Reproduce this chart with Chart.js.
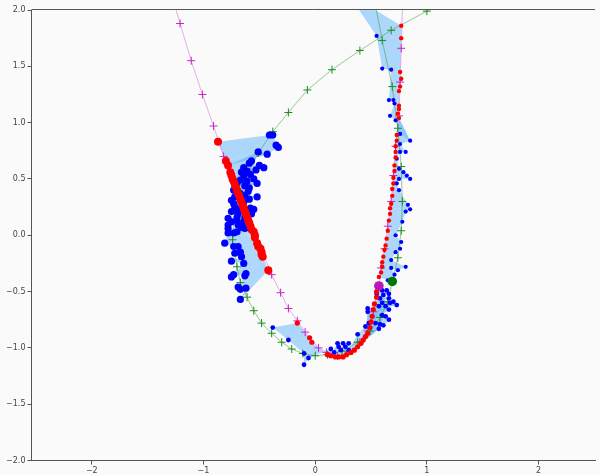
<!DOCTYPE html>
<html>
<head>
<meta charset="utf-8">
<title>Tracking estimate</title>
<script src="https://cdn.jsdelivr.net/npm/chart.js@4.4.1/dist/chart.umd.min.js"></script>
<style>
  html, body { margin: 0; padding: 0; background: #fafafa; }
  canvas { display: block; }
</style>
</head>
<body>
<canvas id="trackChart" width="600" height="475"></canvas>
<script>
const xTicks = [-2, -1, 0, 1, 2];
const yTicks = [-2, -1.5, -1, -0.5, 0, 0.5, 1, 1.5, 2];

// true trajectory (magenta +)
const truePath = [
    [-1.31, 2.22], [-1.21, 1.88], [-1.11, 1.55], [-1.01, 1.25], [-0.91, 0.97], [-0.82, 0.70],
    [-0.39, -0.35], [-0.31, -0.51], [-0.24, -0.65], [-0.16, -0.76], [-0.09, -0.86], [0.03, -1.00],
    [0.10, -1.04], [0.20, -1.07], [0.31, -1.03], [0.40, -0.95], [0.47, -0.85], [0.52, -0.68],
    [0.57, -0.45], [0.59, -0.29], [0.62, -0.12], [0.65, 0.08], [0.68, 0.30], [0.70, 0.53],
    [0.72, 0.79], [0.75, 1.06], [0.76, 1.36], [0.77, 1.66], [0.79, 2.30]
];

// model trajectory (green +)
const modelPath = [
    [1.35, 2.19], [1.00, 1.99], [0.68, 1.82], [0.40, 1.64], [0.15, 1.47], [-0.07, 1.29],
    [-0.24, 1.09], [-0.38, 0.92], [-0.51, 0.73], [-0.60, 0.56], [-0.67, 0.38], [-0.72, 0.19],
    [-0.74, -0.04], [-0.70, -0.28], [-0.67, -0.42], [-0.61, -0.55], [-0.55, -0.67], [-0.48, -0.78],
    [-0.39, -0.87], [-0.30, -0.95], [-0.21, -1.01], [-0.11, -1.05], [0.00, -1.07], [0.11, -1.06],
    [0.24, -1.03], [0.38, -0.95], [0.49, -0.85], [0.58, -0.73], [0.65, -0.59], [0.69, -0.41],
    [0.74, -0.20], [0.77, 0.04], [0.78, 0.30], [0.77, 0.61], [0.74, 0.95], [0.69, 1.32],
    [0.60, 1.73], [0.51, 2.19]
];

const trueNow = [0.57, -0.45];
const modelNow = [0.69, -0.41];

// filtered estimates (red)
const estLeft = [
    [-0.87, 0.83], [-0.80, 0.66], [-0.78, 0.62],
    [-0.76, 0.56], [-0.75, 0.53], [-0.74, 0.50], [-0.73, 0.48], [-0.72, 0.45], [-0.71, 0.43],
    [-0.70, 0.40], [-0.69, 0.37], [-0.68, 0.35], [-0.67, 0.32], [-0.66, 0.29], [-0.65, 0.27],
    [-0.64, 0.24], [-0.63, 0.21], [-0.62, 0.19], [-0.61, 0.16], [-0.60, 0.13], [-0.59, 0.11],
    [-0.58, 0.08], [-0.57, 0.05], [-0.55, 0.03], [-0.54, 0.00], [-0.54, -0.02],
    [-0.52, -0.07], [-0.51, -0.10], [-0.49, -0.12], [-0.48, -0.15], [-0.48, -0.17], [-0.47, -0.19],
    [-0.42, -0.31]
];
const estBottom = [
    [-0.16, -0.78], [-0.05, -0.91], [-0.03, -0.95],
    [0.11, -1.06], [0.14, -1.07], [0.18, -1.08], [0.21, -1.08], [0.25, -1.08], [0.28, -1.06],
    [0.32, -1.04], [0.35, -1.02], [0.38, -0.99], [0.41, -0.96], [0.43, -0.93], [0.45, -0.90],
    [0.47, -0.87], [0.49, -0.82], [0.50, -0.77], [0.51, -0.72], [0.52, -0.66], [0.53, -0.61],
    [0.55, -0.55], [0.55, -0.50], [0.57, -0.46]
];
const estRight = [
    [0.57, -0.37], [0.59, -0.33], [0.60, -0.28], [0.60, -0.24], [0.61, -0.19], [0.62, -0.13],
    [0.63, -0.09], [0.64, -0.03], [0.65, 0.04], [0.66, 0.13], [0.67, 0.19], [0.67, 0.24],
    [0.68, 0.28], [0.69, 0.35], [0.69, 0.41], [0.70, 0.46], [0.70, 0.51], [0.71, 0.57],
    [0.71, 0.62], [0.72, 0.69], [0.72, 0.74], [0.72, 0.79], [0.73, 0.84], [0.73, 0.89],
    [0.75, 1.04], [0.74, 1.08], [0.75, 1.12], [0.75, 1.15], [0.75, 1.28], [0.76, 1.32],
    [0.77, 1.39], [0.76, 1.45], [0.77, 1.75], [0.77, 1.86]
];

// noisy observations (blue)
const obsLeft = [
    [-0.41, 0.89], [-0.38, 0.89], [-0.35, 0.80], [-0.33, 0.78], [-0.43, 0.72], [-0.51, 0.74],
    [-0.57, 0.66], [-0.59, 0.64], [-0.50, 0.62], [-0.46, 0.60], [-0.64, 0.60], [-0.53, 0.58],
    [-0.61, 0.57], [-0.66, 0.56], [-0.58, 0.54], [-0.64, 0.53], [-0.55, 0.50], [-0.67, 0.49],
    [-0.61, 0.48], [-0.52, 0.46], [-0.70, 0.46], [-0.63, 0.44], [-0.59, 0.42], [-0.73, 0.40],
    [-0.60, 0.39], [-0.67, 0.37], [-0.52, 0.34], [-0.72, 0.34], [-0.63, 0.35], [-0.59, 0.32],
    [-0.75, 0.31], [-0.64, 0.29], [-0.73, 0.28], [-0.72, 0.25], [-0.58, 0.24], [-0.55, 0.23],
    [-0.70, 0.23], [-0.75, 0.21], [-0.66, 0.22], [-0.69, 0.19], [-0.57, 0.19], [-0.63, 0.16],
    [-0.70, 0.16], [-0.78, 0.15], [-0.75, 0.12], [-0.70, 0.13], [-0.64, 0.12], [-0.78, 0.09],
    [-0.69, 0.09], [-0.66, 0.07], [-0.78, 0.06], [-0.63, 0.06], [-0.70, 0.03], [-0.73, 0.02],
    [-0.78, 0.02], [-0.81, -0.07], [-0.73, -0.10], [-0.69, -0.10], [-0.72, -0.16], [-0.67, -0.15],
    [-0.66, -0.19], [-0.75, -0.23], [-0.64, -0.25], [-0.73, -0.35], [-0.75, -0.37], [-0.62, -0.34],
    [-0.63, -0.36], [-0.69, -0.46], [-0.67, -0.48], [-0.62, -0.47], [-0.67, -0.57]
];
const obsBottom = [
    [-0.38, -0.82], [-0.24, -0.93], [-0.10, -1.05], [-0.10, -1.15], [-0.06, -1.09], [0.14, -1.01],
    [0.17, -1.04], [0.20, -0.96], [0.21, -0.99], [0.23, -1.02], [0.25, -0.96], [0.27, -0.99],
    [0.30, -0.96], [0.30, -1.02], [0.38, -0.88], [0.45, -0.81], [0.48, -0.78], [0.54, -0.78],
    [0.57, -0.83], [0.58, -0.79], [0.61, -0.80], [0.66, -0.75], [0.60, -0.71], [0.63, -0.72],
    [0.47, -0.68], [0.47, -0.65], [0.57, -0.63], [0.63, -0.63], [0.66, -0.66], [0.60, -0.60],
    [0.67, -0.60], [0.70, -0.59], [0.73, -0.62], [0.58, -0.56], [0.66, -0.56], [0.61, -0.53],
    [0.55, -0.52], [0.66, -0.52], [0.60, -0.49], [0.64, -0.49]
];
const obsRight = [
    [0.65, -0.40], [0.71, -0.35], [0.68, -0.29], [0.74, -0.31], [0.81, -0.28], [0.68, -0.22],
    [0.72, -0.15], [0.76, -0.12], [0.77, -0.06], [0.72, 0.00], [0.78, 0.12], [0.81, 0.21],
    [0.85, 0.23], [0.83, 0.27], [0.75, 0.40], [0.73, 0.46], [0.75, 0.50], [0.85, 0.50],
    [0.82, 0.53], [0.79, 0.56], [0.75, 0.59], [0.73, 0.68], [0.76, 0.74], [0.81, 0.74],
    [0.76, 0.81], [0.85, 0.84], [0.76, 0.90], [0.72, 1.02], [0.67, 1.06], [0.71, 1.17],
    [0.70, 1.20], [0.66, 1.20], [0.68, 1.47], [0.60, 1.48], [0.55, 1.77], [0.29, 2.15]
];

function pts(arr) {
    return arr.map(p => ({x: p[0], y: p[1]}));
}

// quads between each step's observation and the matching estimate (matched by position in the run)
function fanData(obs, est) {
    const out = [];
    const k = (est.length - 1) / (obs.length - 1);
    for (let i = 0; i < obs.length - 1; i++) {
        const a = obs[i], b = obs[i + 1];
        const ra = est[Math.round(i * k)], rb = est[Math.round((i + 1) * k)];
        out.push({x: ra[0], y: ra[1]}, {x: a[0], y: a[1]}, {x: b[0], y: b[1]}, {x: rb[0], y: rb[1]}, {x: null, y: null});
    }
    return out;
}

const minus = s => String(s).replace('-', '\u2212');

const topSpine = {
    id: 'topSpine',
    afterDatasetsDraw(chart) {
        const {ctx, chartArea} = chart;
        ctx.save();
        ctx.strokeStyle = '#555';
        ctx.lineWidth = 1;
        ctx.beginPath();
        ctx.moveTo(chartArea.left, Math.floor(chartArea.top) - 0.5);
        ctx.lineTo(chartArea.right, Math.floor(chartArea.top) - 0.5);
        ctx.stroke();
        ctx.restore();
    }
};

function dots(data, color, radius, order) {
    return {
        data: pts(data), showLine: false, order: order, clip: 0,
        pointRadius: radius, pointBackgroundColor: color, pointBorderWidth: 0, pointStyle: 'circle'
    };
}

function crossLine(data, lineColor, markColor, order) {
    return {
        data: pts(data), order: order, clip: 0,
        borderColor: lineColor, borderWidth: 0.9,
        pointStyle: 'cross', pointRadius: 4, pointBorderColor: markColor, pointBorderWidth: 1
    };
}

function fan(obs, est) {
    return {
        data: fanData(obs, est), order: 9, clip: 0, fill: 'shape', spanGaps: false,
        backgroundColor: 'rgba(120,190,250,0.6)', borderColor: 'rgba(0,0,0,0)', borderWidth: 0,
        pointRadius: 0
    };
}

const tickFont = {family: 'DejaVu Sans', size: 8};

const ctx = document.getElementById('trackChart').getContext('2d');
const trackChart = new Chart(ctx, {
    type: 'line',
    data: {
        datasets: [
            dots([trueNow], 'rgb(190,20,190)', 4.8, 0),
            dots([modelNow], 'rgb(0,120,0)', 4.8, 0),
            dots(estLeft, '#ff0000', 4, 1),
            dots(estBottom, '#ff0000', 2.6, 1),
            dots(estRight, '#ff0000', 2.2, 1),
            dots(obsLeft, '#0000ff', 3.6, 2),
            dots(obsBottom, '#0000ff', 2.4, 2),
            dots(obsRight, '#0000ff', 2.1, 2),
            crossLine(modelPath, 'rgba(40,150,40,0.55)', 'rgb(30,140,30)', 3),
            crossLine(truePath, 'rgba(215,90,215,0.55)', 'rgb(196,40,196)', 4),
            fan(obsLeft, estLeft),
            fan(obsBottom, estBottom),
            fan(obsRight, estRight)
        ]
    },
    options: {
        responsive: false,
        animation: false,
        devicePixelRatio: 1,
        events: [],
        layout: { padding: {top: 10, right: 0, bottom: 0, left: 0} },
        plugins: { legend: {display: false}, tooltip: {enabled: false} },
        scales: {
            x: {
                type: 'linear',
                min: -2.54,
                max: 2.505,
                afterBuildTicks: s => { s.ticks = xTicks.map(v => ({value: v})); },
                afterFit: s => { s.height = 14.5; },
                ticks: { font: tickFont, color: '#444', padding: 1.5, maxRotation: 0, autoSkip: false, callback: v => minus(v) },
                grid: { drawOnChartArea: false, drawTicks: true, tickLength: 4, color: '#555' },
                border: { display: true, color: '#555', width: 1 }
            },
            y: {
                type: 'linear',
                min: -2,
                max: 2,
                afterBuildTicks: s => { s.ticks = yTicks.map(v => ({value: v})); },
                afterFit: s => { s.width = 31.5; },
                ticks: { font: tickFont, color: '#444', padding: 2, callback: v => minus(v.toFixed(1)) },
                grid: { drawOnChartArea: false, drawTicks: true, tickLength: 4, color: '#555' },
                border: { display: true, color: '#555', width: 1 }
            }
        }
    },
    plugins: [topSpine]
});
</script>
</body>
</html>
